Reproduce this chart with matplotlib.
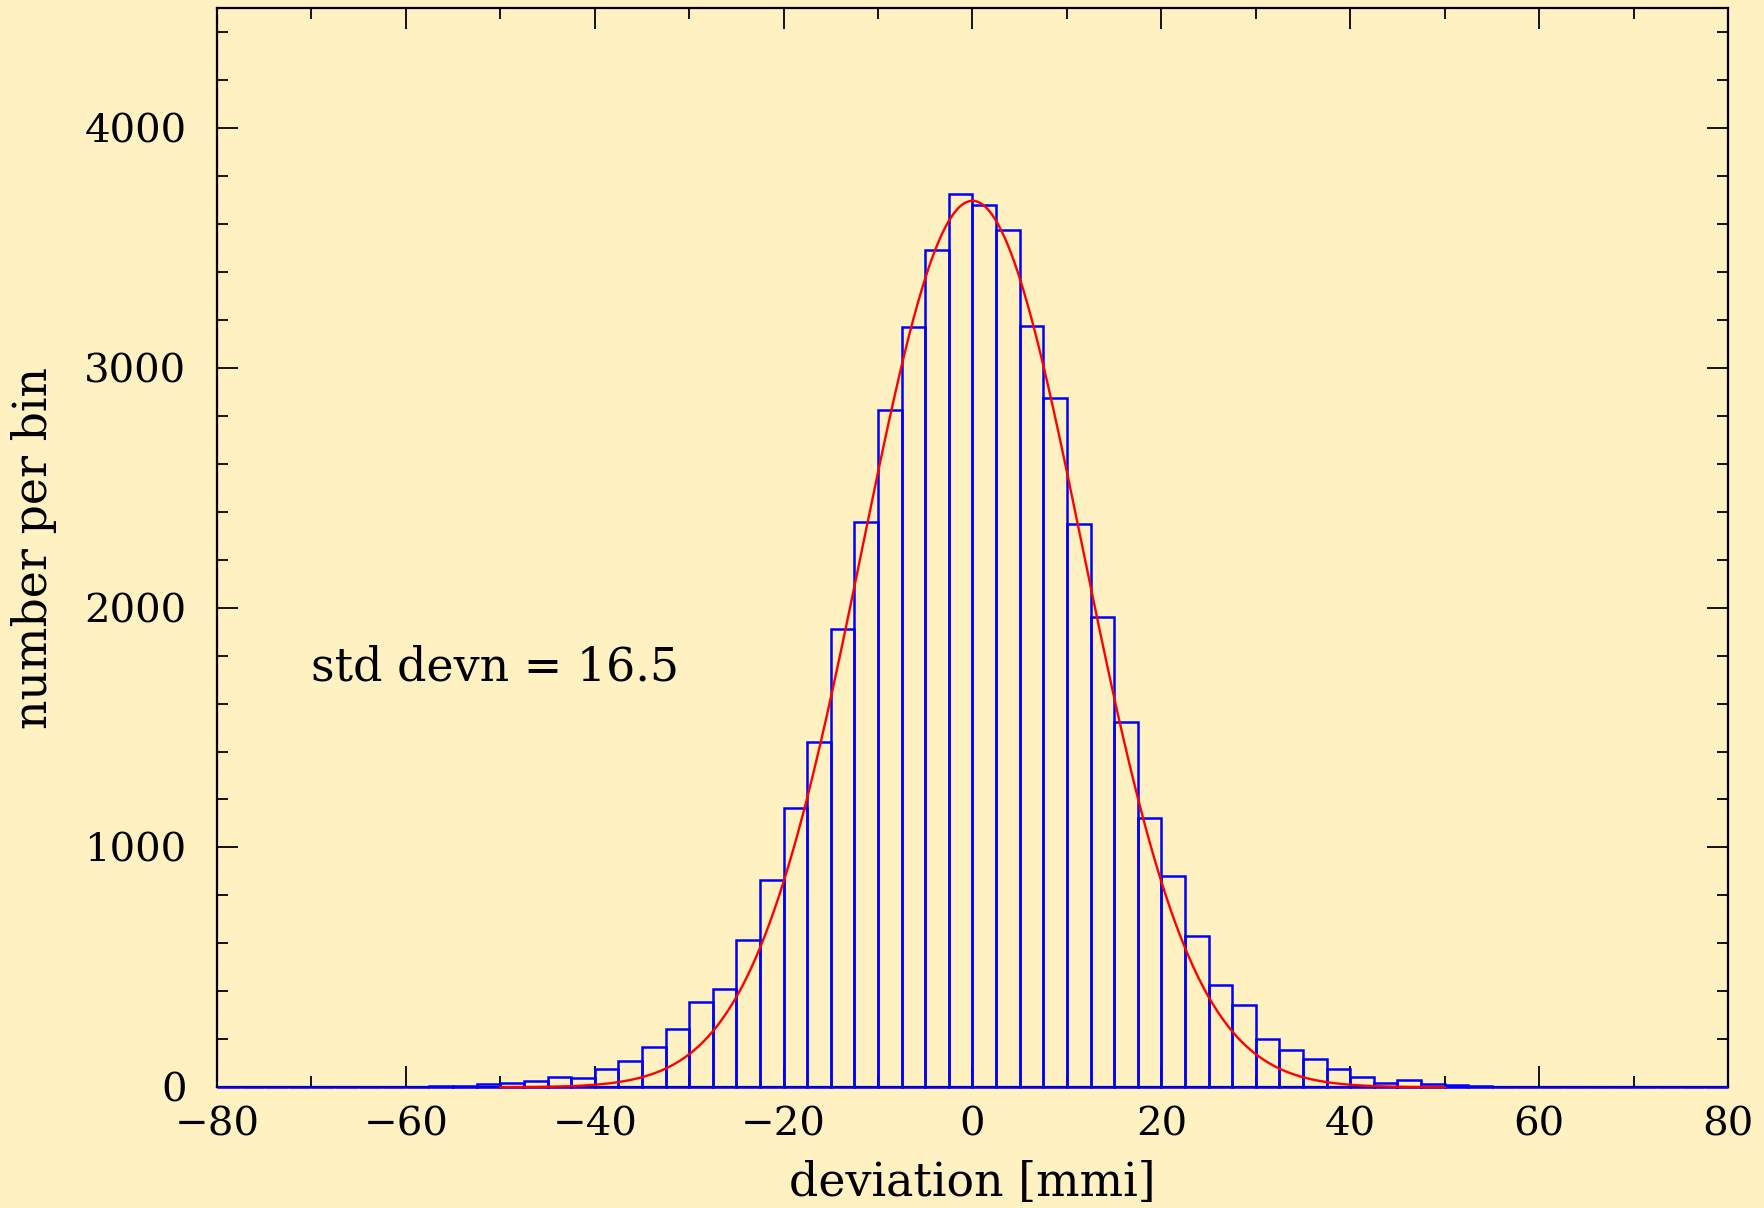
import numpy as np
import matplotlib
matplotlib.use("Agg")
import matplotlib.pyplot as plt
from matplotlib.ticker import MultipleLocator

# ---- data ----
bin_start = -80.0
bin_width = 2.5
counts = [
    0, 0, 0, 0, 0, 0, 0,                      # -80 .. -65
    0, 1, 4, 7, 12, 17, 26, 42, 39,           # -62.5 .. -42.5
    78, 110, 170, 242, 355, 408, 613, 864,    # -40 .. -22.5
    1163, 1438, 1910, 2358, 2823, 3169, 3490, 3724,  # -20 .. -2.5
    3678, 3576, 3173, 2872, 2348, 1959, 1524, 1121,  # 0 .. 17.5
    882, 631, 426, 342, 200, 154, 117, 78,    # 20 .. 37.5
    41, 18, 31, 12, 11, 4, 3, 1,              # 40 .. 57.5
    0, 0, 0, 0, 0, 0, 0, 0,                   # 60 .. 77.5
]
fit_peak = 3696.0
fit_mean = 0.0
fit_sigma = 11.7
fit_lo, fit_hi = -50.0, 50.0
annotation = "std devn = 16.5"
xlabel = "deviation [mmi]"
ylabel = "number per bin"

bg = "#fff1c1"
plt.rcParams["font.family"] = ["DejaVu Serif"]

fig = plt.figure(figsize=(17.64, 12.08), dpi=100, facecolor=bg)
ax = fig.add_axes([0.123, 0.0999, 0.8566, 0.8935], facecolor=bg)

edges = bin_start + bin_width * np.arange(len(counts))
ax.bar(edges, counts, width=bin_width, align="edge", fill=False,
       edgecolor="#0000ff", linewidth=1.8, clip_on=False, zorder=3)

xf = np.linspace(fit_lo, fit_hi, 600)
yf = fit_peak * np.exp(-0.5 * ((xf - fit_mean) / fit_sigma) ** 2)
ax.plot(xf, yf, color="#ff0000", linewidth=1.7, zorder=4, clip_on=False)

ax.set_xlim(-80, 80)
ax.set_ylim(0, 4500)
ax.xaxis.set_major_locator(MultipleLocator(20))
ax.xaxis.set_minor_locator(MultipleLocator(10))
ax.yaxis.set_major_locator(MultipleLocator(1000))
ax.yaxis.set_minor_locator(MultipleLocator(200))
ax.tick_params(which="both", direction="in", top=True, right=True,
               width=1.3, colors="black", labelsize=29)
ax.tick_params(which="major", length=15)
ax.tick_params(which="minor", length=8)
ax.tick_params(axis="y", which="major", pad=22)
ax.tick_params(axis="x", which="major", pad=14)
for s in ax.spines.values():
    s.set_linewidth(1.6)
    s.set_color("black")

ax.set_xlabel(xlabel, fontsize=33, labelpad=12)
ax.set_ylabel(ylabel, fontsize=33, labelpad=20)

ax.text(-70.0, 1748, annotation, fontsize=33, ha="left", va="center")

fig.savefig("out.png", dpi=100, facecolor=bg)
